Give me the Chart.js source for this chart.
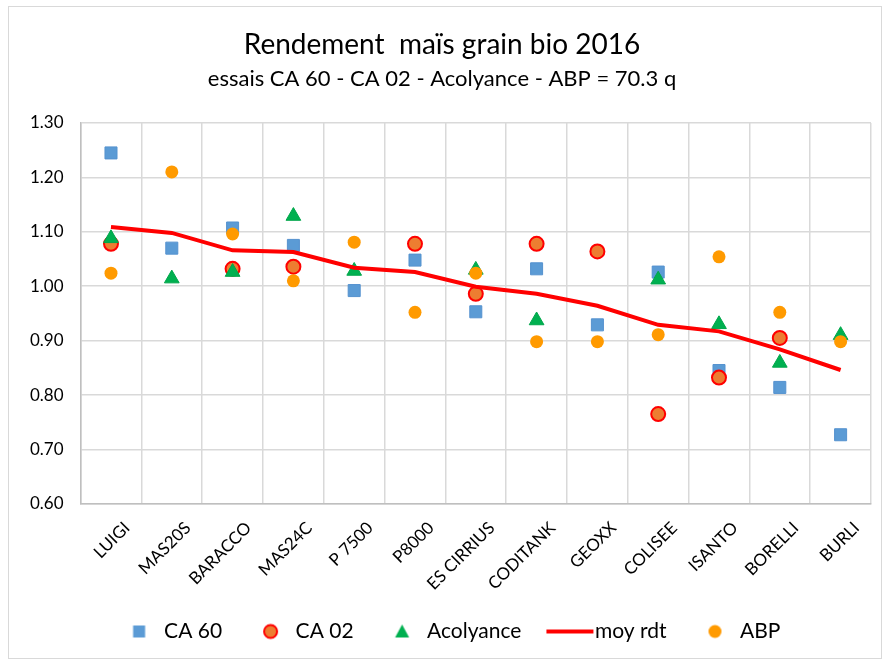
<!DOCTYPE html>
<html>
<head>
<meta charset="utf-8">
<script src="https://cdn.jsdelivr.net/npm/chart.js@4.4.1/dist/chart.umd.min.js"></script>
<style>
  body { margin: 0; background: #fff; }
  .chart_wrap {
    position: absolute; left: 8px; top: 6px;
    width: 874px; height: 653px;
    border: 1px solid #d9d9d9; box-sizing: border-box;
  }
</style>
</head>
<body>
<div class="chart_wrap"><canvas id="rdt_chart"></canvas></div>
<script>
const varieties = ["LUIGI", "MAS20S", "BARACCO", "MAS24C", "P 7500", "P8000", "ES CIRRIUS",
    "CODITANK", "GEOXX", "COLISEE", "ISANTO", "BORELLI", "BURLI"];
const ca60 = [1.245, 1.07, 1.107, 1.075, 0.992, 1.048, 0.953, 1.032, 0.929, 1.026, 0.845, 0.814, 0.727];
const ca02 = [1.078, null, 1.032, 1.036, null, 1.078, 0.986, 1.078, 1.064, 0.765, 0.832, 0.905, null];
const acolyance = [1.088, 1.014, 1.026, 1.129, 1.028, null, 1.03, 0.937, null, 1.012, 0.93, 0.859, 0.91];
const moyRdt = [1.109, 1.098, 1.066, 1.063, 1.034, 1.026, 0.999, 0.986, 0.964, 0.929, 0.917, 0.884, 0.846];
const abp = [1.024, 1.21, 1.096, 1.01, 1.081, 0.952, 1.024, 0.898, 0.898, 0.911, 1.054, 0.952, 0.898];

const font = "Lato, 'Open Sans', sans-serif";
const gridColor = "#d9d9d9";

// legend markers drawn on small canvases so the spacing looks like the Excel legend
function legendMarker(kind) {
    const c = document.createElement("canvas");
    c.width = 70;
    c.height = 20;
    const g = c.getContext("2d");
    const x = 45.5, y = 10;
    if (kind === "square") {
        g.fillStyle = "#5b9bd5";
        g.fillRect(x - 6, y - 6, 12, 12);
    } else if (kind === "ca02") {
        g.beginPath();
        g.arc(x, y, 6.5, 0, Math.PI * 2);
        g.fillStyle = "#ed7d31";
        g.fill();
        g.lineWidth = 2;
        g.strokeStyle = "#ff0000";
        g.stroke();
    } else if (kind === "triangle") {
        g.beginPath();
        g.moveTo(x, y - 7);
        g.lineTo(x + 7, y + 6);
        g.lineTo(x - 7, y + 6);
        g.closePath();
        g.fillStyle = "#00b050";
        g.fill();
    } else if (kind === "line") {
        g.beginPath();
        g.moveTo(22, y);
        g.lineTo(69, y);
        g.lineWidth = 4;
        g.strokeStyle = "#ff0000";
        g.stroke();
    } else {
        g.beginPath();
        g.arc(x, y, 6.5, 0, Math.PI * 2);
        g.fillStyle = "#ff9a00";
        g.fill();
    }
    return c;
}
const legendKinds = ["square", "ca02", "triangle", "line", "dot"];

new Chart(document.getElementById("rdt_chart"), {
    type: "line",
    data: {
        labels: varieties,
        datasets: [
            {
                label: "CA 60",
                data: ca60,
                showLine: false,
                pointStyle: "rect",
                pointRadius: 8.5,
                pointBackgroundColor: "#5b9bd5",
                pointBorderColor: "#5592cf",
                pointBorderWidth: 1,
                backgroundColor: "#5b9bd5",
                borderColor: "#5b9bd5",
                order: 5,
            },
            {
                label: "CA 02",
                data: ca02,
                showLine: false,
                pointStyle: "circle",
                pointRadius: 7,
                pointBackgroundColor: "#ed7d31",
                pointBorderColor: "#ff0000",
                pointBorderWidth: 2,
                backgroundColor: "#ed7d31",
                borderColor: "#ff0000",
                order: 4,
            },
            {
                label: "Acolyance",
                data: acolyance,
                showLine: false,
                pointStyle: "triangle",
                pointRadius: 8.5,
                pointBackgroundColor: "#00b050",
                pointBorderColor: "#00a64b",
                pointBorderWidth: 1,
                backgroundColor: "#00b050",
                borderColor: "#00b050",
                order: 3,
            },
            {
                label: "moy rdt",
                data: moyRdt,
                borderColor: "#ff0000",
                backgroundColor: "#ff0000",
                borderWidth: 4,
                pointRadius: 0,
                tension: 0,
                order: 2,
            },
            {
                label: "ABP",
                data: abp,
                showLine: false,
                pointStyle: "circle",
                pointRadius: 6.5,
                pointBackgroundColor: "#ff9a00",
                pointBorderColor: "#ff9a00",
                pointBorderWidth: 0,
                backgroundColor: "#ff9a00",
                borderColor: "#ff9a00",
                order: 1,
            },
        ],
    },
    options: {
        responsive: true,
        maintainAspectRatio: false,
        animation: false,
        layout: { padding: { left: 4, right: 10, top: 8, bottom: 6 } },
        plugins: {
            title: {
                display: true,
                text: "Rendement  maïs grain bio 2016",
                color: "#000",
                font: { family: font, size: 28, weight: "normal" },
                padding: { top: 13, bottom: 4 },
            },
            subtitle: {
                display: true,
                text: "essais CA 60 - CA 02 - Acolyance - ABP = 70.3 q",
                color: "#000",
                font: { family: font, size: 22, weight: "normal" },
                padding: { top: 0, bottom: 31 },
            },
            legend: {
                position: "bottom",
                labels: {
                    usePointStyle: true,
                    pointStyleWidth: 50,
                    boxHeight: 14,
                    color: "#000",
                    font: { family: font, size: 21 },
                    padding: 13,
                    sort: (a, b) => a.datasetIndex - b.datasetIndex,
                    generateLabels: (chart) =>
                        Chart.defaults.plugins.legend.labels.generateLabels(chart).map((item) => {
                            item.pointStyle = legendMarker(legendKinds[item.datasetIndex]);
                            return item;
                        }),
                },
            },
            tooltip: { enabled: false },
        },
        scales: {
            x: {
                offset: true,
                grid: { offset: true, color: gridColor, lineWidth: 1.5, drawTicks: false },
                border: { color: "#bfbfbf", width: 1.5 },
                ticks: {
                    minRotation: 45,
                    maxRotation: 45,
                    padding: 14,
                    labelOffset: 16,
                    color: "#000",
                    font: { family: font, size: 17 },
                },
            },
            y: {
                min: 0.6,
                max: 1.3,
                grid: { color: gridColor, lineWidth: 1.5, drawTicks: false },
                border: { color: "#bfbfbf", width: 1.5 },
                ticks: {
                    stepSize: 0.1,
                    padding: 17,
                    color: "#000",
                    font: { family: font, size: 17 },
                    callback: (v) => v.toFixed(2),
                },
            },
        },
    },
});
</script>
</body>
</html>
